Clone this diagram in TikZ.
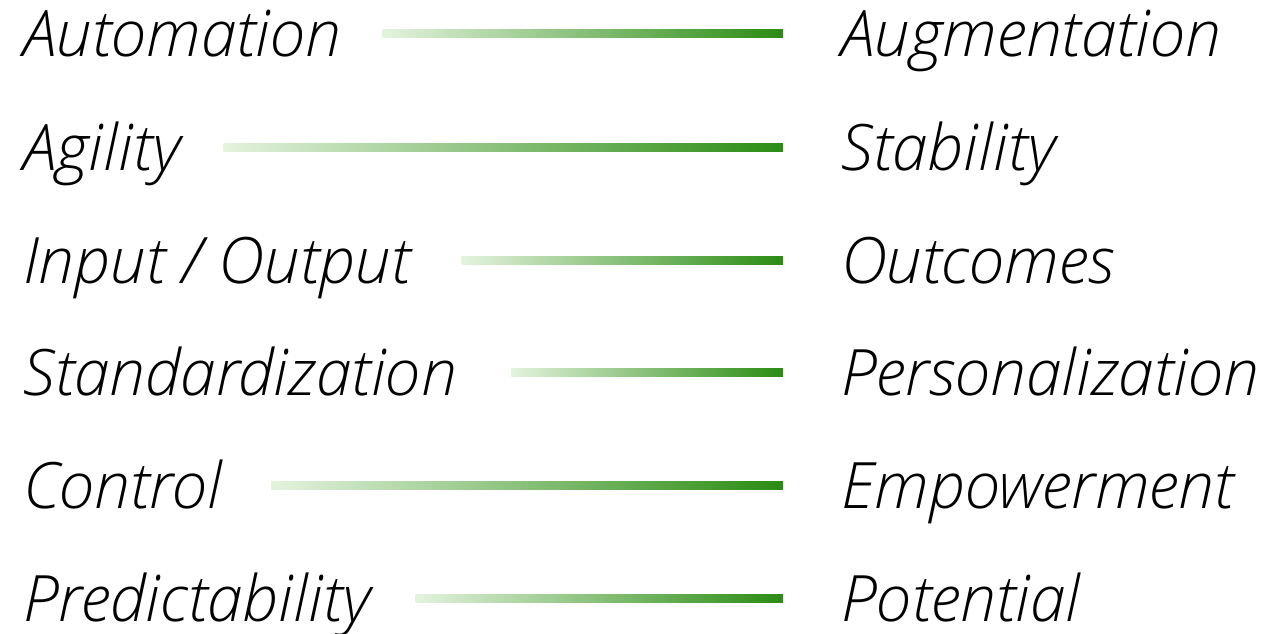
\documentclass[tikz,border=0pt]{standalone}
\usepackage{fontspec}
\setmainfont{Open Sans}[UprightFont=* Light, ItalicFont=* Light Italic]
\usepackage{tikz}
\usepackage{xcolor}
\usetikzlibrary{positioning,calc}
\definecolor{BarLight}{HTML}{E4F3DE}
\definecolor{BarDark}{HTML}{2A8C12}
\tikzset{
  term/.style={anchor=base west,inner sep=0pt,font=\fontsize{64}{72}\selectfont\itshape,text=black},
  bar/.style={left color=BarLight,right color=BarDark}
}

\begin{document}
\begin{tikzpicture}[x=1pt,y=1pt]
  \useasboundingbox (0,0) rectangle (1266,-634);
  % left column
  \node[term] (l1) at (23,-57) {Automation};
  \node[term] (l2) at (23,-170) {Agility};
  \node[term] (l3) at (23,-283) {Input / Output};
  \node[term] (l4) at (23,-395) {Standardization};
  \node[term] (l5) at (23,-508) {Control};
  \node[term] (l6) at (23,-621) {Predictability};
  % right column
  \node[term] (r1) at (841,-57) {Augmentation};
  \node[term] (r2) at (841,-170) {Stability};
  \node[term] (r3) at (841,-283) {Outcomes};
  \node[term] (r4) at (841,-395) {Personalization};
  \node[term] (r5) at (841,-508) {Empowerment};
  \node[term] (r6) at (841,-621) {Potential};
  % gradient bars between the pairs, each with its own left gap
  \foreach \i/\gap in {1/41,2/42,3/51,4/54,5/49,6/44}
    \shade[bar] ($(l\i.base east)+(\gap,19)$) rectangle ($(r\i.base west)+(-58,27)$);
\end{tikzpicture}
\end{document}
